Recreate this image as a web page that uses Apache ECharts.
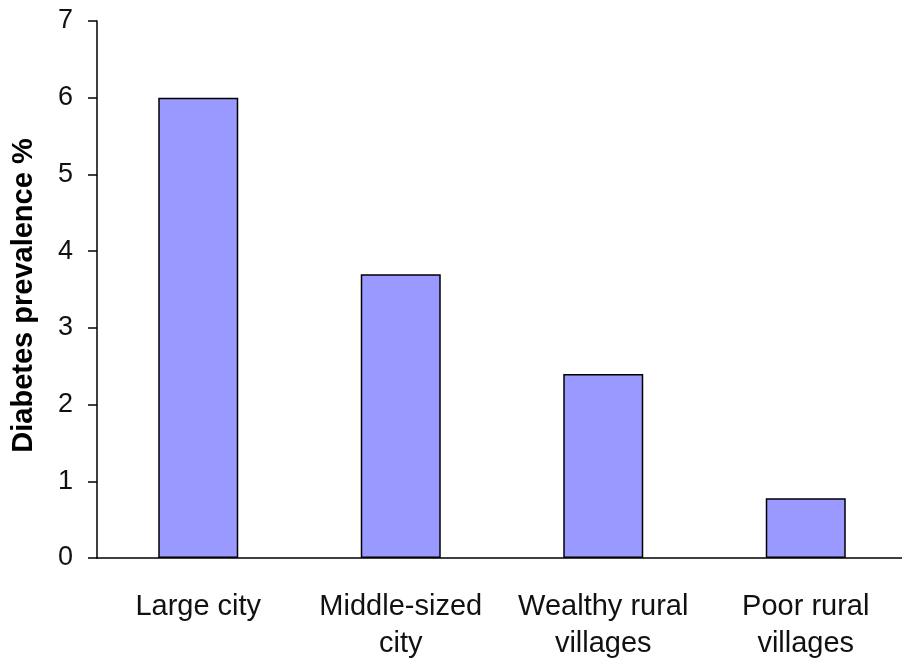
<!DOCTYPE html>
<html>
<head>
<meta charset="utf-8">
<script src="https://cdn.jsdelivr.net/npm/echarts@6/dist/echarts.min.js"></script>
<style>html,body{margin:0;padding:0;background:#fff;}#c{width:902px;height:659px;}</style>
</head>
<body>
<div id="c"></div>
<script>
var categories = ['Large city', 'Middle-sized\ncity', 'Wealthy rural\nvillages', 'Poor rural\nvillages'];
var values = [6.0, 3.7, 2.4, 0.78];
var yTitle = 'Diabetes prevalence %';

var chart = echarts.init(document.getElementById('c'));
chart.setOption({
  animation: false,
  backgroundColor: '#fff',
  grid: { left: 97, right: -5, top: 21, bottom: 101, containLabel: false, outerBoundsMode: 'none' },
  xAxis: {
    type: 'category',
    data: categories,
    axisLine: { lineStyle: { color: '#000', width: 1.5 } },
    axisTick: { length: 10, lineStyle: { color: '#000', width: 1.5 } },
    axisLabel: { color: '#111', fontFamily: 'Liberation Sans, Arial', fontSize: 29, lineHeight: 37, margin: 30, interval: 0 }
  },
  yAxis: {
    type: 'value',
    min: 0, max: 7, interval: 1,
    name: yTitle,
    nameLocation: 'middle',
    nameGap: 59,
    nameTextStyle: { color: '#000', fontFamily: 'Liberation Sans, Arial', fontSize: 29, fontWeight: 'bold', padding: [0, 12, 0, 0] },
    axisLine: { show: true, lineStyle: { color: '#000', width: 1.5 } },
    axisTick: { show: true, length: 9, lineStyle: { color: '#000', width: 1.5 } },
    axisLabel: { color: '#111', fontFamily: 'Liberation Sans, Arial', fontSize: 27, margin: 24 },
    splitLine: { show: false }
  },
  series: [{
    type: 'bar',
    data: values,
    barWidth: 80,
    itemStyle: { color: '#9999FF', borderColor: '#000', borderWidth: 1.5 }
  }]
});
</script>
</body>
</html>
